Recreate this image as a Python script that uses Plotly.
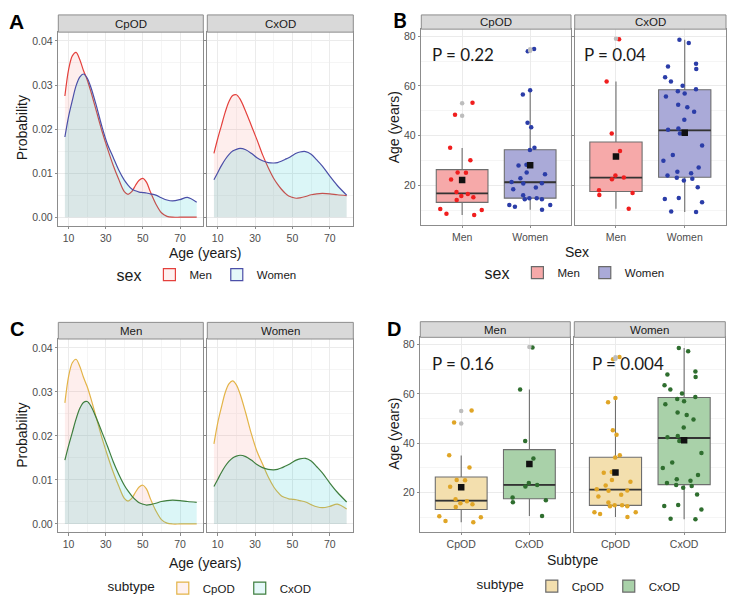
import plotly.graph_objects as go

W, H = 734, 603

ages = [8, 10, 12, 14, 16, 18, 20, 22, 25, 28, 31, 34, 37, 40, 42, 44, 46, 48, 50, 52, 54, 57, 60, 63, 66, 70, 74, 79]
dens_cpod_men = [0.0275, 0.0335, 0.0366, 0.0374, 0.0358, 0.0333, 0.0312, 0.0285, 0.0240, 0.0195, 0.0155, 0.0118, 0.0086,
                 0.0058, 0.0052, 0.0058, 0.0072, 0.0084, 0.0088, 0.0079, 0.0058, 0.0030, 0.0010, 0.0002, 0.0, 0.0, 0.0, 0.0]
dens_cpod_women = [0.0182, 0.0229, 0.0265, 0.0298, 0.0318, 0.0325, 0.0316, 0.0295, 0.0252, 0.0205, 0.0165, 0.0136, 0.0107,
                   0.0084, 0.0073, 0.0064, 0.0060, 0.0057, 0.0056, 0.0055, 0.0053, 0.0050, 0.0044, 0.0039, 0.0037, 0.0040, 0.0045, 0.0034]
dens_cxod_men = [0.0145, 0.0178, 0.0208, 0.0238, 0.0262, 0.0276, 0.0278, 0.0268, 0.0240, 0.0208, 0.0176, 0.0142, 0.0113,
                 0.0088, 0.0075, 0.0064, 0.0055, 0.0048, 0.0045, 0.0043, 0.0044, 0.0047, 0.0051, 0.0053, 0.0054, 0.0053, 0.0051, 0.0049]
dens_cxod_women = [0.0085, 0.0101, 0.0117, 0.0131, 0.0142, 0.0150, 0.0154, 0.0156, 0.0153, 0.0145, 0.0135, 0.0128, 0.0124,
                   0.0123, 0.0124, 0.0127, 0.0131, 0.0135, 0.0140, 0.0145, 0.0148, 0.0149, 0.0143, 0.0130, 0.0116, 0.0093, 0.0072, 0.0050]

age_cpod_men = [53.2, 48.4, 35.1, 30.1, 25.1, 25.0, 22.3, 17.3, 16.5, 15.7, 15.2, 14.1, 10.4, 10.0, 8.5, 8.0]
age_cpod_women = [74.9, 74.0, 58.3, 56.6, 45.2, 43.4, 35.1, 34.2, 28.3, 28.0, 25.1, 24.4, 22.8, 21.3, 20.8, 20.7, 19.1,
                  18.4, 16.0, 14.8, 14.8, 14.4, 14.4, 12.0, 12.0, 11.3, 10.1]
age_cxod_men = [78.8, 61.8, 40.9, 33.8, 23.9, 23.1, 22.4, 18.0, 16.9, 16.1, 10.5]
age_cxod_women = [78.6, 77.3, 69.0, 67.8, 66.8, 63.5, 61.8, 60.1, 58.7, 57.9, 57.0, 55.8, 52.4, 51.4, 49.6, 46.4, 42.9,
                  42.4, 40.9, 36.0, 32.2, 29.9, 27.1, 25.4, 24.8, 23.9, 23.0, 22.6, 21.9, 19.2, 14.9, 14.5, 13.1, 9.4, 9.2]

# groups: CpOD-Men, CpOD-Women, CxOD-Men, CxOD-Women
group_subtype = ["CpOD", "CpOD", "CxOD", "CxOD"]
group_sex = ["Men", "Women", "Men", "Women"]
group_points = [age_cpod_men, age_cpod_women, age_cxod_men, age_cxod_women]
box_q1 = [13.1, 14.8, 17.5, 23.2]
box_median = [16.7, 21.2, 23.1, 42.1]
box_q3 = [26.3, 34.3, 37.4, 58.5]
box_low = [8.0, 10.1, 10.5, 9.2]
box_high = [35.0, 58.3, 61.8, 78.6]
box_mean = [22.1, 28.1, 31.6, 41.2]
box_outliers = [[48.0, 53.0], [74.2, 74.8], [79.0], []]

p_values = ["P = 0.22", "P = 0.04", "P = 0.16", "P = 0.004"]

FONT = "Arial, Liberation Sans, sans-serif"
GRID = "#EBEBEB"
MINOR = "#F5F5F5"
BORDER = "#8C8C8C"
TXT = "#4D4D4D"

red, blue = "#E4403C", "#4B4FA8"
gold, green = "#E3B448", "#3E7E3E"
pink_fill, cyan_fill = "rgba(248,118,109,0.12)", "rgba(0,191,196,0.14)"


def px(x):
    return x / W


def py(y):
    return 1 - y / H


fig = go.Figure()
layout = dict(width=W, height=H, margin=dict(l=0, r=0, t=0, b=0), paper_bgcolor="white",
              plot_bgcolor="white", boxmode="overlay", font=dict(family=FONT, color=TXT),
              shapes=[], annotations=[])

# facet boxes in pixels: (x0, x1, strip_top, plot_top, plot_bottom)
facets = {
    1: (58.3, 203.3, 15, 32.3, 226.7), 2: (207.3, 353.3, 15, 32.3, 226.7),
    3: (421.3, 571.0, 15, 29.3, 225.7), 4: (574.7, 726.0, 15, 29.3, 225.7),
    5: (58.3, 203.3, 324, 340.7, 535.0), 6: (207.3, 353.3, 324, 340.7, 535.0),
    7: (420.3, 570.3, 323.3, 339.0, 534.3), 8: (574.3, 725.3, 323.3, 339.0, 534.3),
}
strip_text = {1: "CpOD", 2: "CxOD", 3: "CpOD", 4: "CxOD", 5: "Men", 6: "Women", 7: "Men", 8: "Women"}


def add_axes(i, density):
    x0, x1, st, pt, pb = facets[i]
    sfx = "" if i == 1 else str(i)
    common = dict(showline=True, mirror=True, linecolor=BORDER, linewidth=1, ticks="outside", ticklen=2.5,
                  tickcolor=BORDER, zeroline=False, showgrid=True, gridcolor=GRID, gridwidth=1,
                  tickfont=dict(size=10.5, color=TXT, family=FONT))
    if density:
        xa = dict(common, domain=[px(x0), px(x1)], range=[4.45, 82.55], tickvals=[10, 30, 50, 70],
                  minor=dict(tickvals=[20, 40, 60], showgrid=True, gridcolor=MINOR))
        ya = dict(common, domain=[py(pb), py(pt)], range=[-0.0019, 0.042],
                  tickvals=[0, 0.01, 0.02, 0.03, 0.04], ticktext=["0.00", "0.01", "0.02", "0.03", "0.04"],
                  minor=dict(tickvals=[0.005, 0.015, 0.025, 0.035], showgrid=True, gridcolor=MINOR),
                  showticklabels=(i % 2 == 1))
    else:
        cats = ["Men", "Women"] if i in (3, 4) else ["CpOD", "CxOD"]
        xa = dict(common, domain=[px(x0), px(x1)], type="category", categoryorder="array",
                  categoryarray=cats, range=[-0.6, 1.6])
        ya = dict(common, domain=[py(pb), py(pt)], range=[4.15, 82.9], tickvals=[20, 40, 60, 80],
                  minor=dict(tickvals=[10, 30, 50, 70], showgrid=True, gridcolor=MINOR),
                  showticklabels=(i % 2 == 1))
    xa["anchor"] = "y" + sfx
    ya["anchor"] = "x" + sfx
    layout["xaxis" + sfx] = xa
    layout["yaxis" + sfx] = ya
    # strip
    layout["shapes"].append(dict(type="rect", xref="paper", yref="paper", x0=px(x0), x1=px(x1),
                                 y0=py(pt), y1=py(st), fillcolor="#D9D9D9",
                                 line=dict(color=BORDER, width=1), layer="above"))
    layout["annotations"].append(dict(text=strip_text[i], xref="paper", yref="paper", x=px((x0 + x1) / 2),
                                      y=py((st + pt) / 2), showarrow=False, xanchor="center", yanchor="middle",
                                      font=dict(size=11.5, color="#1A1A1A", family=FONT)))


for i in facets:
    add_axes(i, i in (1, 2, 5, 6))


def ax(i):
    return ("x", "y") if i == 1 else ("x%d" % i, "y%d" % i)


def density(i, dens, line, fill):
    xa, ya = ax(i)
    fig.add_trace(go.Scatter(x=ages, y=dens, mode="lines", xaxis=xa, yaxis=ya, showlegend=False,
                             line=dict(color=line, width=1.2, shape="spline", smoothing=0.9),
                             fill="tozeroy", fillcolor=fill, hoverinfo="skip"))


# panel A: facet by subtype, colour by sex
density(1, dens_cpod_men, red, pink_fill)
density(1, dens_cpod_women, blue, cyan_fill)
density(2, dens_cxod_men, red, pink_fill)
density(2, dens_cxod_women, blue, cyan_fill)
# panel C: facet by sex, colour by subtype
density(5, dens_cpod_men, gold, pink_fill)
density(5, dens_cxod_men, green, cyan_fill)
density(6, dens_cpod_women, gold, pink_fill)
density(6, dens_cxod_women, green, cyan_fill)


def boxes(i, g, cat, fill, dot):
    xa, ya = ax(i)
    fig.add_trace(go.Box(x=[cat], q1=[box_q1[g]], median=[box_median[g]], q3=[box_q3[g]],
                         lowerfence=[box_low[g]], upperfence=[box_high[g]], xaxis=xa, yaxis=ya,
                         fillcolor=fill, line=dict(color="#6E6E6E", width=1.1), whiskerwidth=0,
                         width=0.76, showlegend=False, boxpoints=False, hoverinfo="skip"))
    # heavier median bar (degenerate box at the median)
    m = box_median[g]
    fig.add_trace(go.Box(x=[cat], q1=[m], median=[m], q3=[m], lowerfence=[m], upperfence=[m],
                         xaxis=xa, yaxis=ya, fillcolor="rgba(0,0,0,0)", line=dict(color="#333333", width=1.8),
                         whiskerwidth=0, width=0.76, showlegend=False, boxpoints=False, hoverinfo="skip"))
    if box_outliers[g]:
        fig.add_trace(go.Scatter(x=[cat] * len(box_outliers[g]), y=box_outliers[g], mode="markers",
                                 xaxis=xa, yaxis=ya, showlegend=False,
                                 marker=dict(color="#BDBDBD", size=4.5)))
    fig.add_trace(go.Box(x=[cat] * len(group_points[g]), y=group_points[g], xaxis=xa, yaxis=ya,
                         boxpoints="all", jitter=1, pointpos=0, width=0.76,
                         fillcolor="rgba(0,0,0,0)", line=dict(color="rgba(0,0,0,0)", width=0),
                         marker=dict(color=dot, size=4.5), showlegend=False, hoverinfo="skip"))
    fig.add_trace(go.Scatter(x=[cat], y=[box_mean[g]], mode="markers", xaxis=xa, yaxis=ya, showlegend=False,
                             marker=dict(symbol="square", color="#111111", size=6.5)))


# panel B: facet by subtype, x = sex
boxes(3, 0, "Men", "#F6A9A9", "#F01E1E")
boxes(3, 1, "Women", "#AAAAD8", "#2B3DA8")
boxes(4, 2, "Men", "#F6A9A9", "#F01E1E")
boxes(4, 3, "Women", "#AAAAD8", "#2B3DA8")
# panel D: facet by sex, x = subtype
boxes(7, 0, "CpOD", "#F3DFAE", "#E0A526")
boxes(7, 2, "CxOD", "#A9D1A9", "#2F6E2F")
boxes(8, 1, "CpOD", "#F3DFAE", "#E0A526")
boxes(8, 3, "CxOD", "#A9D1A9", "#2F6E2F")


# legend keys
def key(i, name, legend, fill, edge):
    xa, ya = ax(i)
    fig.add_trace(go.Scatter(x=[None], y=[None], mode="markers", name=name, legend=legend, xaxis=xa, yaxis=ya,
                             marker=dict(symbol="square", size=12, color=fill, line=dict(color=edge, width=1.2))))


key(1, "Men", "legend", "rgba(248,118,109,0.1)", red)
key(1, "Women", "legend", "rgba(0,191,196,0.1)", blue)
key(3, "Men", "legend2", "#F6A9A9", "#6A6A6A")
key(3, "Women", "legend2", "#AAAAD8", "#6A6A6A")
key(5, "CpOD", "legend3", "rgba(248,118,109,0.1)", gold)
key(5, "CxOD", "legend3", "rgba(0,191,196,0.1)", green)
key(7, "CpOD", "legend4", "#F3DFAE", "#6A6A6A")
key(7, "CxOD", "legend4", "#A9D1A9", "#6A6A6A")


def legend_box(title, tsize, cx, cy):
    return dict(title=dict(text=title, side="left", font=dict(size=tsize, color="#1A1A1A", family=FONT)),
                orientation="h", x=px(cx), y=py(cy), xanchor="center", yanchor="middle",
                font=dict(size=11.5, color="#1A1A1A", family=FONT), bgcolor="rgba(0,0,0,0)",
                itemwidth=30, traceorder="normal")


layout["legend"] = legend_box("sex", 16, 208, 277)
layout["legend2"] = legend_box("sex", 16, 576, 275)
layout["legend3"] = legend_box("subtype", 13.5, 211, 591)
layout["legend4"] = legend_box("subtype", 13.5, 580, 589)


def label(text, x, y, size, angle=0, color="#1A1A1A", family=FONT, xanchor="center"):
    layout["annotations"].append(dict(text=text, x=px(x), y=py(y), xref="paper", yref="paper", showarrow=False,
                                      xanchor=xanchor, yanchor="middle", textangle=angle,
                                      font=dict(size=size, color=color, family=family)))


# axis titles
label("Probability", 22, 129, 14, -90)
label("Age (years)", 205, 254, 14)
label("Age (years)", 394, 128, 14, -90)
label("Sex", 577, 253, 14)
label("Probability", 22, 438, 14, -90)
label("Age (years)", 205, 566, 14)
label("Age (years)", 394, 436, 14, -90)
label("Subtype", 573, 563, 14)

# panel letters
label("<b>A</b>", 16, 22, 21, color="black")
label("<b>B</b>", 400, 20, 21, color="black", family="Lato, Arial, sans-serif")
label("<b>C</b>", 17, 331, 20, color="black")
label("<b>D</b>", 394, 331, 20, color="black")

# p values
label(p_values[0], 430, 55, 17, color="#1A1A1A", family="Lato, sans-serif", xanchor="left")
label(p_values[1], 582, 55, 17, color="#1A1A1A", family="Lato, sans-serif", xanchor="left")
label(p_values[2], 430, 365, 17, color="#1A1A1A", family="Lato, sans-serif", xanchor="left")
label(p_values[3], 590, 365, 17, color="#1A1A1A", family="Lato, sans-serif", xanchor="left")

fig.update_layout(**layout)
fig.write_html("out.html", config={"displayModeBar": False},
               post_script="document.body.style.margin = '0';")
